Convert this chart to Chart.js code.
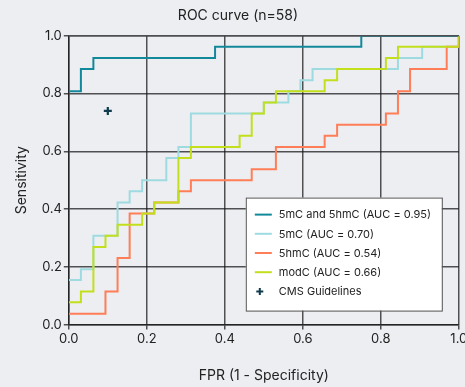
<!DOCTYPE html>
<html>
<head>
<meta charset="utf-8">
<script src="https://cdn.jsdelivr.net/npm/chart.js@4.4.1/dist/chart.umd.min.js"></script>
<style>
  html, body { margin: 0; padding: 0; background: #eceef2; }
  #wrap { width: 465px; height: 387px; }
</style>
</head>
<body>
<div id="wrap"><canvas id="roc_chart"></canvas></div>
<script>
// ROC points (fpr / tpr)
const labels = ["5mC and 5hmC (AUC = 0.95)", "5mC (AUC = 0.70)", "5hmC (AUC = 0.54)", "modC (AUC = 0.66)"];
const colors = ["#12899a", "#9edbe0", "#ff7d57", "#c3df1c"];

const fpr_both = [0, 0.031, 0.031, 0.063, 0.063, 0.375, 0.375, 0.75, 0.75, 1];
const tpr_both = [0.808, 0.808, 0.885, 0.885, 0.923, 0.923, 0.962, 0.962, 1, 1];

const fpr_5mc = [0, 0.031, 0.031, 0.063, 0.063, 0.125, 0.125, 0.156, 0.156, 0.188, 0.188, 0.25, 0.25, 0.281, 0.281, 0.313, 0.313, 0.5, 0.5, 0.563, 0.563, 0.594, 0.594, 0.625, 0.625, 0.844, 0.844, 0.906, 0.906, 1, 1];
const tpr_5mc = [0.154, 0.154, 0.192, 0.192, 0.308, 0.308, 0.423, 0.423, 0.462, 0.462, 0.5, 0.5, 0.577, 0.577, 0.615, 0.615, 0.731, 0.731, 0.769, 0.769, 0.808, 0.808, 0.846, 0.846, 0.885, 0.885, 0.923, 0.923, 0.962, 0.962, 1];

const fpr_5hmc = [0, 0.094, 0.094, 0.125, 0.125, 0.156, 0.156, 0.219, 0.219, 0.281, 0.281, 0.313, 0.313, 0.469, 0.469, 0.531, 0.531, 0.656, 0.656, 0.688, 0.688, 0.813, 0.813, 0.844, 0.844, 0.875, 0.875, 0.969, 0.969, 1, 1];
const tpr_5hmc = [0.038, 0.038, 0.115, 0.115, 0.231, 0.231, 0.385, 0.385, 0.423, 0.423, 0.462, 0.462, 0.5, 0.5, 0.538, 0.538, 0.615, 0.615, 0.654, 0.654, 0.692, 0.692, 0.731, 0.731, 0.808, 0.808, 0.885, 0.885, 0.962, 0.962, 1];

const fpr_modc = [0, 0.031, 0.031, 0.063, 0.063, 0.094, 0.094, 0.125, 0.125, 0.188, 0.188, 0.219, 0.219, 0.281, 0.281, 0.313, 0.313, 0.438, 0.438, 0.469, 0.469, 0.5, 0.5, 0.531, 0.531, 0.656, 0.656, 0.688, 0.688, 0.813, 0.813, 0.844, 0.844, 1, 1];
const tpr_modc = [0.077, 0.077, 0.115, 0.115, 0.269, 0.269, 0.308, 0.308, 0.346, 0.346, 0.385, 0.385, 0.423, 0.423, 0.577, 0.577, 0.615, 0.615, 0.654, 0.654, 0.731, 0.731, 0.769, 0.769, 0.808, 0.808, 0.846, 0.846, 0.885, 0.885, 0.923, 0.923, 0.962, 0.962, 1];

const cms_label = "CMS Guidelines";
const cms_fpr = [0.1];
const cms_tpr = [0.74];

const tick_values = [0, 0.2, 0.4, 0.6, 0.8, 1.0];

const font = "Inter, 'DejaVu Sans', sans-serif";
const ink = "#222";
const gridColor = "rgba(20,20,20,0.72)";

function pts(xs, ys) {
  return xs.map((x, i) => ({ x: x, y: ys[i] }));
}

const curves = [
  [fpr_both, tpr_both],
  [fpr_5mc, tpr_5mc],
  [fpr_5hmc, tpr_5hmc],
  [fpr_modc, tpr_modc],
];

const datasets = curves.map((c, i) => ({
  label: labels[i],
  data: pts(c[0], c[1]),
  showLine: true,
  borderColor: colors[i],
  backgroundColor: colors[i],
  borderWidth: 2,
  pointRadius: 0,
  order: 4 - i, // later series drawn on top, like the original
}));

datasets.push({
  label: cms_label,
  data: pts(cms_fpr, cms_tpr),
  pointStyle: "cross",
  pointRadius: 4,
  borderWidth: 2.2,
  borderColor: "#0f3b4c",
  backgroundColor: "#0f3b4c",
  order: 0,
});

// top frame line sits over the curves, as in the original figure
const topFrame = {
  id: "topFrame",
  afterDatasetsDraw(chart) {
    const ctx = chart.ctx;
    const a = chart.chartArea;
    ctx.save();
    ctx.strokeStyle = "#4d4e51";
    ctx.lineWidth = 1.5;
    ctx.beginPath();
    ctx.moveTo(a.left, a.top);
    ctx.lineTo(a.right, a.top);
    ctx.stroke();
    ctx.restore();
  },
};

// legend box inside the plot, bottom right
const insideLegend = {
  id: "insideLegend",
  afterDraw(chart) {
    const ctx = chart.ctx;
    const a = chart.chartArea;
    const w = 196, h = 113;
    const x0 = a.right - 17 - w;
    const y0 = a.bottom - 14 - h;
    ctx.save();
    ctx.fillStyle = "#ffffff";
    ctx.fillRect(x0, y0, w, h);
    ctx.strokeStyle = "#555";
    ctx.lineWidth = 1;
    ctx.strokeRect(x0 + 0.5, y0 + 0.5, w, h);
    ctx.font = "11px " + font;
    ctx.textBaseline = "middle";
    ctx.fillStyle = ink;
    const rows = labels.concat([cms_label]);
    rows.forEach((t, i) => {
      const y = y0 + 17 + i * 19.2;
      if (i < labels.length) {
        ctx.strokeStyle = colors[i];
        ctx.lineWidth = 2;
        ctx.beginPath();
        ctx.moveTo(x0 + 9, y);
        ctx.lineTo(x0 + 26, y);
        ctx.stroke();
      } else {
        ctx.strokeStyle = "#0f3b4c";
        ctx.lineWidth = 2;
        ctx.beginPath();
        ctx.moveTo(x0 + 14, y - 3.5); ctx.lineTo(x0 + 14, y + 3.5);
        ctx.moveTo(x0 + 10.5, y); ctx.lineTo(x0 + 17.5, y);
        ctx.stroke();
      }
      ctx.fillStyle = ink;
      ctx.fillText(t, x0 + 33, y + 0.5);
    });
    ctx.restore();
  },
};

const bgPlugin = {
  id: "bg",
  beforeDraw(chart) {
    const ctx = chart.ctx;
    ctx.save();
    ctx.fillStyle = "#eceef2";
    ctx.fillRect(0, 0, chart.width, chart.height);
    ctx.restore();
  },
};

function axis(title, isX) {
  return {
    type: "linear",
    min: 0,
    max: 1,
    afterBuildTicks: (s) => { s.ticks = tick_values.map(v => ({ value: v })); },
    afterFit: isX ? (s) => { s.paddingRight = 0; s.paddingLeft = 0; } : undefined,
    ticks: {
      callback: (v) => Number(v).toFixed(1),
      font: { family: font, size: 13 },
      color: ink,
      padding: 2,
      maxRotation: 0,
      autoSkip: false,
    },
    grid: { color: gridColor, lineWidth: 1.5, tickLength: 5 },
    border: { display: true, color: gridColor, width: 1.5 },
    title: {
      display: true,
      text: title,
      font: { family: font, size: 14 },
      color: ink,
      padding: isX ? { top: 18, bottom: 0 } : { top: 0, bottom: 10 },
    },
  };
}

new Chart(document.getElementById("roc_chart"), {
  type: "scatter",
  data: { datasets: datasets },
  options: {
    responsive: true,
    maintainAspectRatio: false,
    animation: false,
    layout: { padding: { left: 13, right: 2, top: 0, bottom: 3 } },
    scales: {
      x: axis("FPR (1 - Specificity)", true),
      y: axis("Sensitivity", false),
    },
    plugins: {
      legend: { display: false },
      tooltip: { enabled: false },
      title: {
        display: true,
        text: "ROC curve (n=58)",
        font: { family: font, size: 14, weight: "normal" },
        color: ink,
        padding: { top: 7, bottom: 12 },
      },
    },
  },
  plugins: [bgPlugin, topFrame, insideLegend],
});
</script>
</body>
</html>
